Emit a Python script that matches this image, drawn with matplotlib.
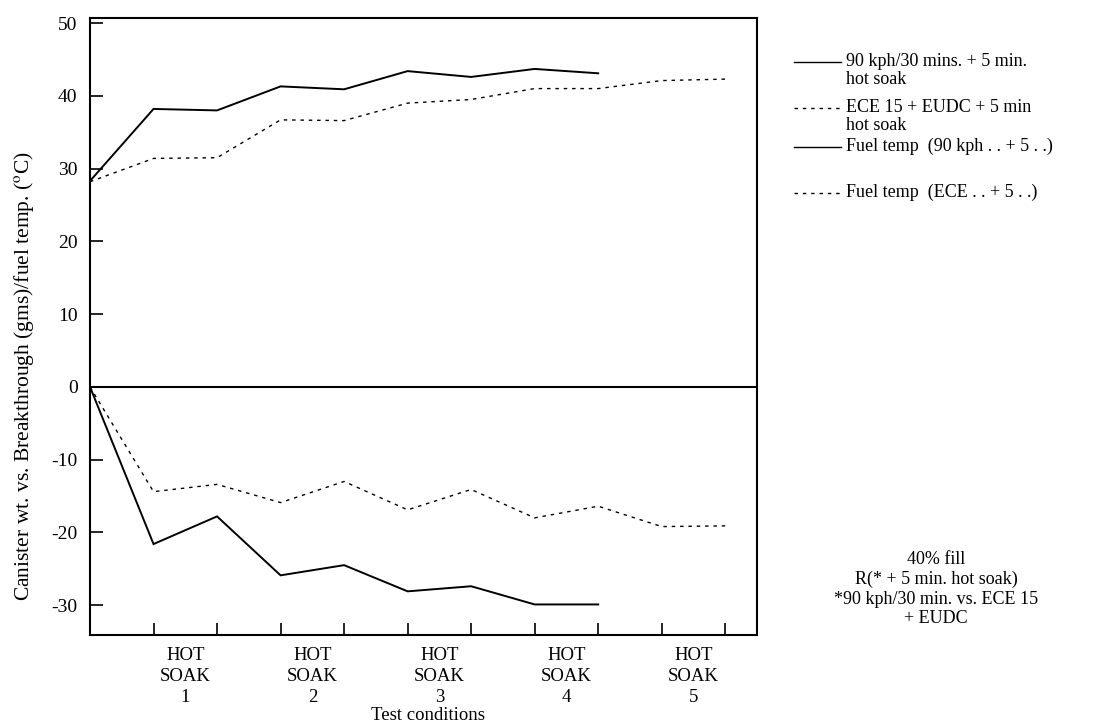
import matplotlib
matplotlib.use("Agg")
import matplotlib.pyplot as plt
from matplotlib.lines import Line2D

plt.rcParams['font.family'] = ['Liberation Serif', 'DejaVu Serif']
plt.rcParams['mathtext.fontset'] = 'stix'

# ---- data ----
x_90 = [0, 1, 2, 3, 4, 5, 6, 7, 8]
x_ece = [0, 1, 2, 3, 4, 5, 6, 7, 8, 9, 10]
fuel_temp_90 = [28.3, 38.2, 38.0, 41.3, 40.9, 43.4, 42.6, 43.7, 43.1]
fuel_temp_ece = [28.2, 31.4, 31.5, 36.7, 36.6, 39.0, 39.5, 41.0, 41.0, 42.1, 42.3]
breakthrough_90 = [0, -21.6, -17.8, -25.9, -24.5, -28.1, -27.4, -29.9, -29.9]
breakthrough_ece = [0, -14.4, -13.4, -15.9, -13.0, -16.9, -14.1, -18.0, -16.4, -19.2, -19.1]

minor_ticks = [1, 2, 3, 4, 5, 6, 7, 8, 9, 10]
group_pos = [1.5, 3.5, 5.5, 7.5, 9.5]
group_labels = ["HOT\nSOAK\n1", "HOT\nSOAK\n2", "HOT\nSOAK\n3", "HOT\nSOAK\n4", "HOT\nSOAK\n5"]
y_ticks = [50, 40, 30, 20, 10, 0, -10, -20, -30]

legend_labels = ["90 kph/30 mins. + 5 min.\nhot soak",
                 "ECE 15 + EUDC + 5 min\nhot soak",
                 "Fuel temp  (90 kph . . + 5 . .)",
                 "Fuel temp  (ECE . . + 5 . .)"]
note_lines = ["40% fill", "R(* + 5 min. hot soak)", "*90 kph/30 min. vs. ECE 15", "+ EUDC"]

W, H = 1103, 726
fig = plt.figure(figsize=(W / 100, H / 100), dpi=100)
ax = fig.add_axes([90 / W, 1 - 635 / H, (757 - 90) / W, (635 - 18) / H])

solid = dict(color='black', lw=1.4, solid_joinstyle='miter')
dashed = dict(color='black', lw=1.0, linestyle=(0, (2.5, 3.5)))

ax.plot(x_90, fuel_temp_90, **solid)
ax.plot(x_ece, fuel_temp_ece, **dashed)
ax.plot(x_90, breakthrough_90, **solid)
ax.plot(x_ece, breakthrough_ece, **dashed)
ax.axhline(0, color='black', lw=1.5)

ax.set_xlim(0, 10.5)
ax.set_ylim(-34.1, 50.7)
ax.set_yticks(y_ticks)
ax.set_yticklabels([str(v) for v in y_ticks], fontsize=14)
ax.tick_params(axis='y', direction='in', length=9, width=1.2, pad=9)
ax.set_xticks(minor_ticks)
ax.set_xticklabels([])
ax.tick_params(axis='x', direction='in', length=9, width=1.2)
for s in ax.spines.values():
    s.set_linewidth(1.5)

for p, lab in zip(group_pos, group_labels):
    ax.text(p, -35.8, lab, ha='center', va='top', fontsize=13.5,
            linespacing=1.28, transform=ax.transData, clip_on=False)

fig.text(428 / W, 1 - 716 / H, "Test conditions", ha='center', va='center', fontsize=13.5)
fig.text(24 / W, 1 - 376 / H,
         "Canister wt. vs. Breakthrough (gms)/fuel temp. ($^{\\mathrm{o}}$C)",
         rotation=90, ha='center', va='center', fontsize=15.5)

# legend drawn manually in figure coordinates
leg_y = [62, 108, 147, 193]
leg_styles = [solid, dashed, solid, dashed]
for yy, lab, st in zip(leg_y, legend_labels, leg_styles):
    st2 = dict(st)
    st2['lw'] = 1.0
    fig.add_artist(Line2D([794 / W, 841 / W], [1 - yy / H, 1 - yy / H],
                          transform=fig.transFigure, **st2))
    fig.text(846 / W, 1 - (yy - 9) / H, lab, ha='left', va='top', fontsize=13,
             linespacing=1.05)

for i, line in enumerate(note_lines):
    fig.text(936 / W, 1 - (560 + 19.5 * i) / H, line, ha='center', va='center', fontsize=13)

fig.savefig("out.png", dpi=100)
